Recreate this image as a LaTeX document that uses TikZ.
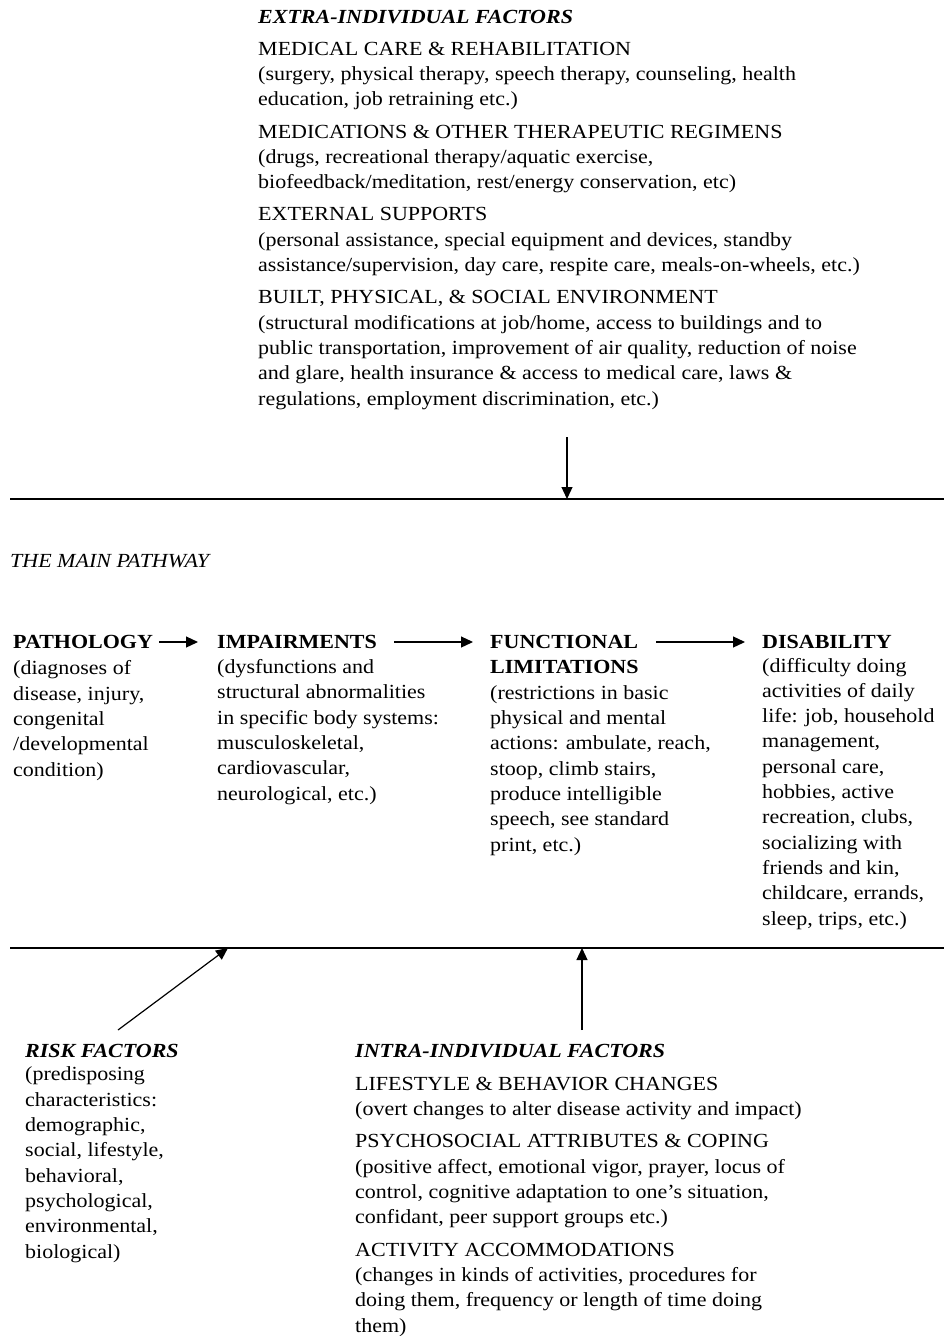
\documentclass[tikz,border=0pt]{standalone}
\usepackage{fontspec}
\setmainfont{Liberation Serif}[FakeStretch=1.1]
\usetikzlibrary{arrows.meta,positioning}

\begin{document}
\begin{tikzpicture}[x=1pt,y=1pt,
  txt/.style={anchor=base west,inner sep=0pt,align=left,font=\fontsize{20}{25.3}\selectfont},
  ihead/.style={txt,font=\fontsize{20}{25.3}\selectfont\bfseries\itshape},
  bhead/.style={txt,font=\fontsize{20}{25.3}\selectfont\bfseries},
  arr/.style={-{Triangle[length=12pt,width=11pt]},line width=1.2pt}]
\useasboundingbox (0,0) rectangle (944,-1336);

% extra-individual factors (multi-line nodes sit on their last baseline)
\node[ihead] (extrah) at (258,-23) {EXTRA-INDIVIDUAL FACTORS};
\node[txt] (extra) at (258,-405) {MEDICAL CARE \& REHABILITATION\\
(surgery, physical therapy, speech therapy, counseling, health\\
education, job retraining etc.)\\[7pt]
MEDICATIONS \& OTHER THERAPEUTIC REGIMENS\\
(drugs, recreational therapy/aquatic exercise,\\
biofeedback/meditation, rest/energy conservation, etc)\\[7pt]
EXTERNAL SUPPORTS\\
(personal assistance, special equipment and devices, standby\\
assistance/supervision, day care, respite care, meals-on-wheels, etc.)\\[7pt]
BUILT, PHYSICAL, \& SOCIAL ENVIRONMENT\\
(structural modifications at job/home, access to buildings and to\\
public transportation, improvement of air quality, reduction of noise\\
and glare, health insurance \& access to medical care, laws \&\\
regulations, employment discrimination, etc.)};

% the two rules
\coordinate (topL) at (10,-499);
\coordinate (topR) at (944,-499);
\coordinate (botL) at (10,-948);
\coordinate (botR) at (944,-948);
\draw[line width=1.2pt] (topL) -- (topR);
\draw[line width=1.2pt] (botL) -- (botR);

\coordinate (extraout) at (567,-437);
\coordinate (extrain) at (567,-499);
\draw[arr] (extraout) -- (extrain);

\node[txt,font=\fontsize{20}{25.3}\selectfont\itshape] (mainh) at (10,-567) {THE MAIN PATHWAY};

% main pathway
\node[bhead] (patho) at (13,-648) {PATHOLOGY};
\node[txt] (pathod) at (13,-776) {(diagnoses of\\
disease, injury,\\
congenital\\
/developmental\\
condition)};
\node[bhead] (impair) at (217,-648) {IMPAIRMENTS};
\node[txt] (impaird) at (217,-800) {(dysfunctions and\\
structural abnormalities\\
in specific body systems:\\
musculoskeletal,\\
cardiovascular,\\
neurological, etc.)};
\node[bhead] (funct) at (490,-648) {FUNCTIONAL};
\node[bhead] (functl) at (490,-673.5) {LIMITATIONS};
\node[txt] (functd) at (490,-851) {(restrictions in basic\\
physical and mental\\
actions: ambulate, reach,\\
stoop, climb stairs,\\
produce intelligible\\
speech, see standard\\
print, etc.)};
\node[bhead] (disab) at (762,-648) {DISABILITY};
\node[txt] (disabd) at (762,-925) {(difficulty doing\\
activities of daily\\
life: job, household\\
management,\\
personal care,\\
hobbies, active\\
recreation, clubs,\\
socializing with\\
friends and kin,\\
childcare, errands,\\
sleep, trips, etc.)};

\draw[arr,shorten <=6pt,shorten >=19pt] ([yshift=6pt]patho.base east) -- ([yshift=6pt]impair.base west);
\draw[arr,shorten <=17pt,shorten >=17pt] ([yshift=6pt]impair.base east) -- ([yshift=6pt]funct.base west);
\draw[arr,shorten <=18pt,shorten >=17pt] ([yshift=6pt]funct.base east) -- ([yshift=6pt]disab.base west);

% risk and intra-individual factors
\coordinate (riskout) at (118,-1030);
\coordinate (riskin) at (228,-948);
\draw[arr] (riskout) -- (riskin);
\coordinate (intraout) at (582,-1030);
\coordinate (intrain) at (582,-948);
\draw[arr] (intraout) -- (intrain);

\node[ihead] (riskh) at (25,-1057) {RISK FACTORS};
\node[txt] (risk) at (25,-1258) {(predisposing\\
characteristics:\\
demographic,\\
social, lifestyle,\\
behavioral,\\
psychological,\\
environmental,\\
biological)};

\node[ihead] (intrah) at (355,-1057) {INTRA-INDIVIDUAL FACTORS};
\node[txt] (intra) at (355,-1332) {LIFESTYLE \& BEHAVIOR CHANGES\\
(overt changes to alter disease activity and impact)\\[7pt]
PSYCHOSOCIAL ATTRIBUTES \& COPING\\
(positive affect, emotional vigor, prayer, locus of\\
control, cognitive adaptation to one’s situation,\\
confidant, peer support groups etc.)\\[7pt]
ACTIVITY ACCOMMODATIONS\\
(changes in kinds of activities, procedures for\\
doing them, frequency or length of time doing\\
them)};
\end{tikzpicture}
\end{document}
